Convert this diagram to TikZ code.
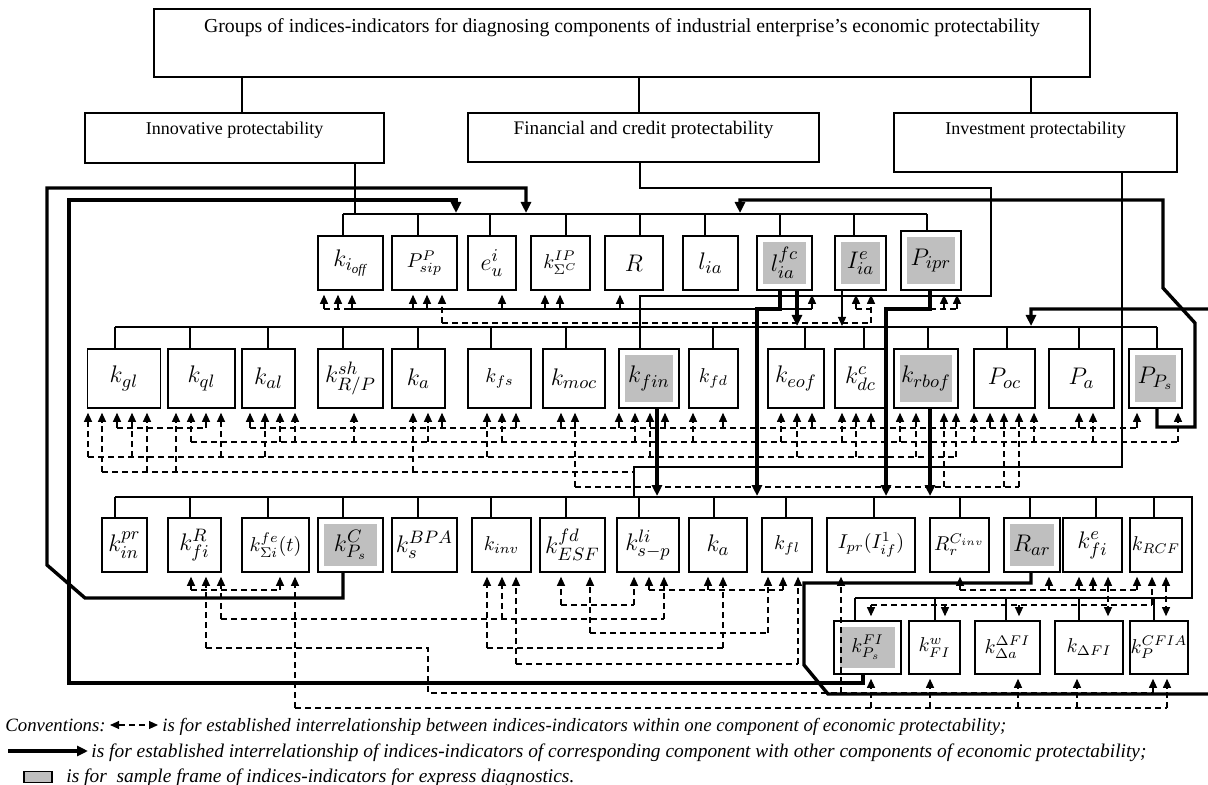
\documentclass[tikz,border=0pt]{standalone}
\usepackage{fontspec}
\setmainfont{Liberation Serif}
\usetikzlibrary{arrows.meta}

\begin{document}
\begin{tikzpicture}[x=0.5pt, y=-0.5pt]
\tikzset{ind/.style={draw, line width=0.8pt, inner sep=0pt, font=\fontsize{13}{15}\selectfont},
  sml/.style={font=\fontsize{10}{12}\selectfont},
  sz/.style 2 args={minimum width=#1*0.5pt, minimum height=#2*0.5pt},
  graybg/.style={path picture={\fill[gray!50] ([shift={(3pt,-3pt)}]path picture bounding box.north west) rectangle ([shift={(-3pt,3pt)}]path picture bounding box.south east);}},
  grp/.style={draw, line width=0.7pt, inner sep=0pt, font=\fontsize{9}{10}\selectfont, text height=11pt},
  lnk/.style={line width=0.6pt},
  lnka/.style={line width=0.6pt, -{Triangle[length=4.5pt, width=4pt]}},
  thka/.style={line width=1.7pt, -{Triangle[length=5.5pt, width=5pt]}},
  dep/.style={line width=0.55pt, dash pattern=on 3pt off 2pt},
  depa/.style={dep, -{Triangle[length=4.5pt, width=4pt]}, shorten >=2pt},
  depb/.style={dep, {Triangle[length=4.5pt, width=4pt]}-{Triangle[length=4.5pt, width=4pt]}, shorten >=2pt, shorten <=2pt},
  leg/.style={inner sep=0pt, font=\fontsize{9.4}{11}\selectfont\itshape},
  legl/.style={inner sep=0pt, font=\fontsize{9.7}{11}\selectfont\itshape}}
\useasboundingbox (0,0) rectangle (1208,785);

% groups
\node[grp, sz={936}{68}, text height=12pt, text depth=22pt, font=\fontsize{9.9}{11}\selectfont] (title) at (622,43) {Groups of indices-indicators for diagnosing components of industrial enterprise’s economic protectability};
\node[grp, sz={299}{50}, text depth=14pt] (inno) at (234.5,138) {Innovative protectability};
\node[grp, sz={351}{49}, text depth=13.5pt, font=\fontsize{9.6}{11}\selectfont] (fin) at (643.5,137.5) {Financial and credit protectability};
\node[grp, sz={283}{59}, text depth=18.5pt] (inv) at (1035.5,142.5) {Investment protectability};

% row 1
\node[ind, sz={65}{54}] (kioff) at (350.5,263) {$k_{i_{\mathit{off}}}$};
\node[ind, sml, sz={65}{54}] (Psip) at (424.5,263) {$P^{P}_{sip}$};
\node[ind, sz={48}{54}] (eu) at (492,263) {$e^{i}_{u}$};
\node[ind, sml, sz={59}{54}] (kSig) at (560.5,263) {$k^{IP}_{\Sigma^{C}}$};
\node[ind, sz={58}{54}] (R) at (634,263) {$R$};
\node[ind, sz={55}{54}] (lia) at (710.5,263) {$l_{ia}$};
\node[ind, graybg, sz={55}{54}] (lfc) at (784.5,263) {$l^{fc}_{ia}$};
\node[ind, graybg, sz={51}{54}] (Iia) at (860.5,263) {$I^{e}_{ia}$};
\node[ind, graybg, sz={60}{59}] (Pipr) at (931,260.5) {$P_{ipr}$};

% row 2
\node[ind, sz={73}{59}] (kgl) at (124,378.5) {$k_{gl}$};
\node[ind, sz={67}{59}] (kql) at (201.5,378.5) {$k_{ql}$};
\node[ind, sz={53}{59}] (kal) at (268.5,378.5) {$k_{al}$};
\node[ind, sz={65}{59}] (kshRP) at (350.5,378.5) {$k^{sh}_{R/P}$};
\node[ind, sz={53}{59}] (ka2) at (418.5,378.5) {$k_{a}$};
\node[ind, sml, sz={63}{59}] (kfs) at (499.5,378.5) {$k_{fs}$};
\node[ind, sz={62}{59}] (kmoc) at (574,378.5) {$k_{moc}$};
\node[ind, graybg, sz={60}{59}] (kfin) at (649,378.5) {$k_{fin}$};
\node[ind, sml, sz={49}{59}] (kfd) at (713.5,378.5) {$k_{fd}$};
\node[ind, sz={56}{59}] (keof) at (796,378.5) {$k_{eof}$};
\node[ind, sz={51}{59}] (kdc) at (860.5,378.5) {$k^{c}_{dc}$};
\node[ind, graybg, sz={64}{59}] (krbof) at (926,378.5) {$k_{rbof}$};
\node[ind, sz={61}{59}] (Poc) at (1004.5,378.5) {$P_{oc}$};
\node[ind, sz={65}{59}] (Pa) at (1081.5,378.5) {$P_{a}$};
\node[ind, graybg, sz={53}{59}] (PPs) at (1155.5,378.5) {$P_{P_s}$};

% row 3
\node[ind, sz={45}{54}] (kinpr) at (124.5,545) {$k^{pr}_{in}$};
\node[ind, sz={53}{54}] (kfiR) at (194.5,545) {$k^{R}_{fi}$};
\node[ind, sml, sz={67}{54}] (kSfe) at (275.5,545) {$k^{fe}_{\Sigma i}(t)$};
\node[ind, graybg, sz={65}{54}] (kPsC) at (350.5,545) {$k^{C}_{P_s}$};
\node[ind, sz={65}{54}] (ksBPA) at (424.5,545) {$k^{BPA}_{s}$};
\node[ind, sml, sz={59}{54}] (kinv) at (501.5,545) {$k_{inv}$};
\node[ind, sz={65}{54}] (kESF) at (572.5,545) {$k^{fd}_{ESF}$};
\node[ind, sz={62}{54}] (kli) at (648,545) {$k^{li}_{s-p}$};
\node[ind, sz={58}{54}] (ka3) at (718,545) {$k_{a}$};
\node[ind, sml, sz={50}{54}] (kfl) at (787,545) {$k_{fl}$};
\node[ind, sml, sz={88}{54}] (Ipr) at (871,545) {$I_{pr}(I^{1}_{if})$};
\node[ind, sml, sz={59}{54}] (RrC) at (959.5,545) {$R^{C_{inv}}_{r}$};
\node[ind, graybg, sz={56}{54}] (Rar) at (1032,545) {$R_{ar}$};
\node[ind, sz={59}{54}] (kfie) at (1092.5,545) {$k^{e}_{fi}$};
\node[ind, sml, sz={52}{54}] (kRCF) at (1156,545) {$k_{RCF}$};

% row 4
\node[ind, sml, graybg, sz={67}{53}] (kPsFI) at (867.5,647.5) {$k^{FI}_{P_s}$};
\node[ind, sml, sz={51}{53}] (kFIw) at (934.5,647.5) {$k^{w}_{FI}$};
\node[ind, sml, sz={65}{53}] (kDa) at (1007.5,647.5) {$k^{\Delta FI}_{\Delta a}$};
\node[ind, sml, sz={68}{53}] (kDFI) at (1089,647.5) {$k_{\Delta FI}$};
\node[ind, sml, sz={58}{53}] (kCFIA) at (1159,647.5) {$k^{CFIA}_{P}$};

% tree
\draw[lnk] (242,0 |- title.south) -- (242,0 |- inno.north);
\draw[lnk] (639,0 |- title.south) -- (639,0 |- fin.north);
\draw[lnk] (1031,0 |- title.south) -- (1031,0 |- inv.north);
\draw[lnk] (355,0 |- inno.south) -- (355,214);
\draw[lnk] (343,214) -- (927,214);
\foreach \x/\b in {343/kioff, 418/Psip, 490/eu, 566/kSig, 640/R, 705/lia, 780/lfc, 854/Iia, 927/Pipr}
  \draw[lnk] (\x,214) -- (\x,0 |- \b.north);
\draw[lnk] (640,0 |- fin.south) -- (640,188) -- (991,188) -- (991,296) -- (640,296) -- (640,327);
\draw[lnk] (115,327) -- (1157,327);
\foreach \x/\b in {115/kgl, 190/kql, 268/kal, 343/kshRP, 418/ka2, 491/kfs, 566/kmoc, 640/kfin, 713/kfd, 805/keof, 864/kdc, 928/krbof, 1007/Poc, 1079/Pa, 1157/PPs}
  \draw[lnk] (\x,327) -- (\x,0 |- \b.north);
\draw[lnk] (1122,0 |- inv.south) -- (1122,467) -- (634,467) -- (634,497);
\draw[lnk] (115,497) -- (1192,497) -- (1192,598) -- (855,598);
\foreach \x/\b in {115/kinpr, 190/kfiR, 268/kSfe, 343/kPsC, 418/ksBPA, 491/kinv, 566/kESF, 639/kli, 714/ka3, 786/kfl, 874/Ipr, 960/RrC, 1030/Rar, 1096/kfie, 1154/kRCF}
  \draw[lnk] (\x,497) -- (\x,0 |- \b.north);
\foreach \x/\b in {855/kPsFI, 935/kFIw, 1006/kDa, 1079/kDFI, 1154/kCFIA}
  \draw[lnk] (\x,598) -- (\x,0 |- \b.north);

% links with other components
\draw[thka] (343,0 |- kPsC.south) -- (343,598) -- (85,598) -- (47,565) -- (47,188) -- (526,188) -- (526,213);
\draw[thka] (863,0 |- kPsFI.south) -- (863,683) -- (69,683) -- (69,200) -- (456,200) -- (456,213);
\draw[thka] (1157,0 |- PPs.south) -- (1157,427) -- (1195,427) -- (1195,323) -- (1163,288) -- (1163,200) -- (740,200) -- (740,213);
\draw[thka] (1031,0 |- Rar.south) -- (1031,583) -- (804,583) -- (804,665) -- (828,694) -- (1220,694) -- (1220,309) -- (1031,309) -- (1031,326);
\draw[thka] (780,0 |- lfc.south) -- (780,309) -- (757,309) -- (757,496);
\draw[thka] (797,0 |- lfc.south) -- (797,326);
\draw[thka] (930,0 |- Pipr.south) -- (930,309) -- (886,309) -- (886,496);
\draw[thka] (657,0 |- kfin.south) -- (657,496);
\draw[thka] (930,0 |- krbof.south) -- (930,496);
\draw[lnka] (842,0 |- Iia.south) -- (842,326);

% links within a component: row 1
\draw[dep] (324,309) -- (346,309);
\draw[lnk] (346,309) -- (812,309);
\draw[dep] (856,309) -- (871,309);
\draw[dep] (930,309) -- (957,309);
\draw[dep] (442,323) -- (871,323);
\foreach \x/\b in {324/kioff, 338/kioff, 352/kioff, 413/Psip, 427/Psip, 502/eu, 545/kSig, 560/kSig, 620/R, 812/lfc, 856/Iia, 944/Pipr, 957/Pipr}
  \draw[depa] (\x,309) -- (\x,0 |- \b.south);
\foreach \x/\b in {442/Psip, 871/Iia}
  \draw[depa] (\x,323) -- (\x,0 |- \b.south);

% row 2
\draw[dep] (117,428) -- (206,428);
\draw[dep] (250,428) -- (1137,428);
\draw[dep] (191,442) -- (1178,442);
\draw[dep] (88,457) -- (956,457);
\draw[dep] (102,472) -- (634,472);
\draw[dep] (575,487) -- (1019,487);
\foreach \x/\b in {117/kgl, 206/kql, 250/kal, 442/ka2, 516/kfs, 561/kmoc, 619/kfin, 665/kfin, 723/kfd, 812/keof, 871/kdc, 990/Poc, 1079/Pa, 1137/PPs}
  \draw[depa] (\x,428) -- (\x,0 |- \b.south);
\foreach \x/\b in {191/kql, 280/kal, 295/kal, 354/kshRP, 428/ka2, 502/kfs, 635/kfin, 693/kfd, 781/keof, 842/kdc, 900/krbof, 974/Poc, 1034/Poc, 1093/Pa, 1178/PPs}
  \draw[depa] (\x,442) -- (\x,0 |- \b.south);
\foreach \x/\b in {88/kgl, 132/kgl, 221/kql, 265/kal, 487/kfs, 650/kfin, 797/keof, 856/kdc, 916/krbof, 956/krbof}
  \draw[depa] (\x,457) -- (\x,0 |- \b.south);
\foreach \x/\b in {102/kgl, 147/kgl, 176/kql, 413/ka2}
  \draw[depa] (\x,472) -- (\x,0 |- \b.south);
\foreach \x/\b in {575/kmoc, 944/krbof, 1004/Poc, 1019/Poc}
  \draw[depa] (\x,487) -- (\x,0 |- \b.south);

% row 3 and row 4
\draw[dep] (191,590) -- (280,590);
\draw[dep] (649,590) -- (783,590);
\draw[dep] (960,590) -- (1137,590);
\draw[dep] (561,605) -- (634,605);
\draw[dep] (871,605) -- (1152,605);
\draw[dep] (221,619) -- (664,619);
\draw[dep] (590,633) -- (768,633);
\draw[dep] (487,648) -- (723,648);
\draw[dep] (516,664) -- (798,664);
\draw[dep] (206,648) -- (428,648) -- (428,693) -- (1153,693);
\draw[dep] (295,708) -- (1167,708);
\foreach \x/\b in {191/kfiR, 280/kSfe}
  \draw[depa] (\x,590) -- (\x,0 |- \b.south);
\foreach \x/\b in {649/kli, 708/ka3, 783/kfl, 960/RrC, 1049/Rar, 1079/kfie, 1093/kfie, 1137/kRCF}
  \draw[depa] (\x,590) -- (\x,0 |- \b.south);
\foreach \x/\b in {561/kESF, 634/kli, 1152/kRCF}
  \draw[depa] (\x,605) -- (\x,0 |- \b.south);
\foreach \x/\b in {871/kPsFI, 945/kFIw, 1019/kDa}
  \draw[depa] (\x,605) -- (\x,0 |- \b.north);
\foreach \x/\b in {221/kfiR, 502/kinv, 664/kli}
  \draw[depa] (\x,619) -- (\x,0 |- \b.south);
\foreach \x/\b in {590/kESF, 768/kfl}
  \draw[depa] (\x,633) -- (\x,0 |- \b.south);
\foreach \x/\b in {206/kfiR, 487/kinv, 723/ka3}
  \draw[depa] (\x,648) -- (\x,0 |- \b.south);
\foreach \x/\b in {516/kinv, 798/kfl}
  \draw[depa] (\x,664) -- (\x,0 |- \b.south);
\foreach \x/\b in {841/Ipr, 1153/kCFIA}
  \draw[depa] (\x,693) -- (\x,0 |- \b.south);
\foreach \x/\b in {295/kSfe, 871/kPsFI, 930/kFIw, 1018/kDa, 1077/kDFI, 1167/kCFIA}
  \draw[depa] (\x,708) -- (\x,0 |- \b.south);
\draw[depb] (1108,0 |- kfie.south) -- (1108,0 |- kDFI.north);
\draw[depb] (1166,0 |- kRCF.south) -- (1166,0 |- kCFIA.north);

% conventions
\node[leg, anchor=base west] (conv) at (5,731) {Conventions:};
\node[leg, anchor=base west] (legA) at (162,731) {is for established interrelationship between indices-indicators within one component of economic protectability;};
\draw[depb] ([yshift=3pt]conv.base east) -- ([yshift=3pt]legA.base west);
\coordinate (legs) at (8,751);
\node[legl, anchor=base west] (legB) at (91,757) {is for established interrelationship of indices-indicators of corresponding component with other components of economic protectability;};
\draw[thka] (legs) -- ([xshift=-1.5pt,yshift=3pt]legB.base west);
\node[draw, fill=gray!50, line width=0.6pt, minimum width=14pt, minimum height=5.5pt, inner sep=0pt] (legbox) at (38,777) {};
\node[legl, anchor=base west] (legC) at (66,782) {is for\ \ sample frame of indices-indicators for express diagnostics.};
\end{tikzpicture}
\end{document}
